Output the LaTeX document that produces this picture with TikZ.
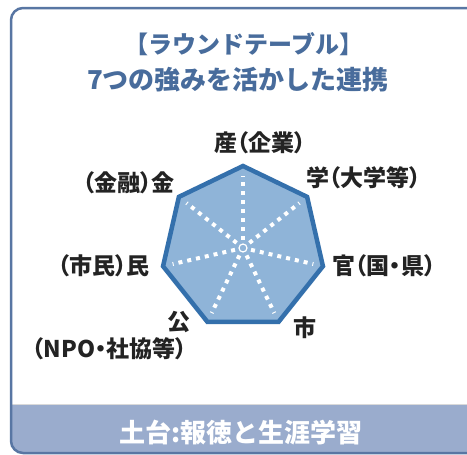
\documentclass[tikz,border=0pt]{standalone}
\usepackage{fontspec}
\newfontfamily\jpfont{Noto Sans CJK JP}
\newfontfamily\jplabel[RawFeature=+palt]{Noto Sans CJK JP}
\usetikzlibrary{positioning,calc}
\definecolor{framecol}{RGB}{88,118,163}
\definecolor{basefill}{RGB}{154,172,205}
\definecolor{titlecol}{RGB}{72,108,156}
\definecolor{labelcol}{RGB}{35,35,35}
\definecolor{heptaline}{RGB}{52,112,172}
\definecolor{heptafill}{RGB}{143,180,216}

\begin{document}
\begin{tikzpicture}[x=1pt,y=1pt,
  lbl/.style={font=\jplabel\bfseries\fontsize{23}{24}\selectfont,text=labelcol,inner sep=0pt},
  ttl/.style={font=\jpfont\bfseries\fontsize{24}{25}\selectfont,text=titlecol,inner sep=0pt},
  hepta/.style={draw=heptaline,fill=heptafill,line width=4.5pt,line join=miter},
  spoke/.style={white,line width=4pt,dash pattern=on 4pt off 5pt}]
\useasboundingbox (0,0) rectangle (467,-455);
\begin{scope}
\clip[rounded corners=12pt] (11,-8) rectangle (490,-453);
\fill[white] (11,-8) rectangle (490,-453);
\fill[basefill] (0,-404) rectangle (490,-460);
\end{scope}
\draw[black!15,line width=0.8pt] (12,-404) -- (467,-404);
\draw[framecol,line width=2.5pt,rounded corners=12pt] (11,-8) rectangle (490,-453);
\node[ttl] (title1) at (244,-44) {【ラウンドテーブル】};
\node[ttl,font=\jpfont\bfseries\fontsize{26}{27}\selectfont] (title2) at (238,-80) {7つの強みを活かした連携};
\coordinate (c) at (243,-248);
\foreach \i in {0,...,6} {
   \path (c) ++({90-\i*360/7}:82) coordinate (v\i);
}
\draw[hepta] (v0) -- (v1) -- (v2) -- (v3) -- (v4) -- (v5) -- (v6) -- cycle;
\foreach \i in {0,...,6} {
   \draw[spoke] ($(c)!0.1!(v\i)$) -- ($(c)!0.88!(v\i)$);
}
\draw[white,line width=1.2pt] (c) circle (4);
\node[lbl,above=12pt of v0,xshift=17pt] (san) {産（企業）};
\node[lbl,above right=8pt and -1pt of v1] (gaku) {学（大学等）};
\node[lbl,right=9pt of v2] (kan) {官（国・県）};
\node[lbl,below right=-5pt and 15pt of v3] (shi) {市};
\node[lbl,left=17pt of v4] (kou) {公};
\node[lbl,below left=5pt and 3pt of kou.south east] (npo) {（NPO・社協等）};
\node[lbl,left=13pt of v5] (min) {（市民）民};
\node[lbl,above left=3pt and 4pt of v6] (kin) {（金融）金};
\node[font=\jpfont\bfseries\fontsize{26}{27}\selectfont,text=white,inner sep=0pt] (base) at (241,-433) {土台:報徳と生涯学習};
\end{tikzpicture}
\end{document}
